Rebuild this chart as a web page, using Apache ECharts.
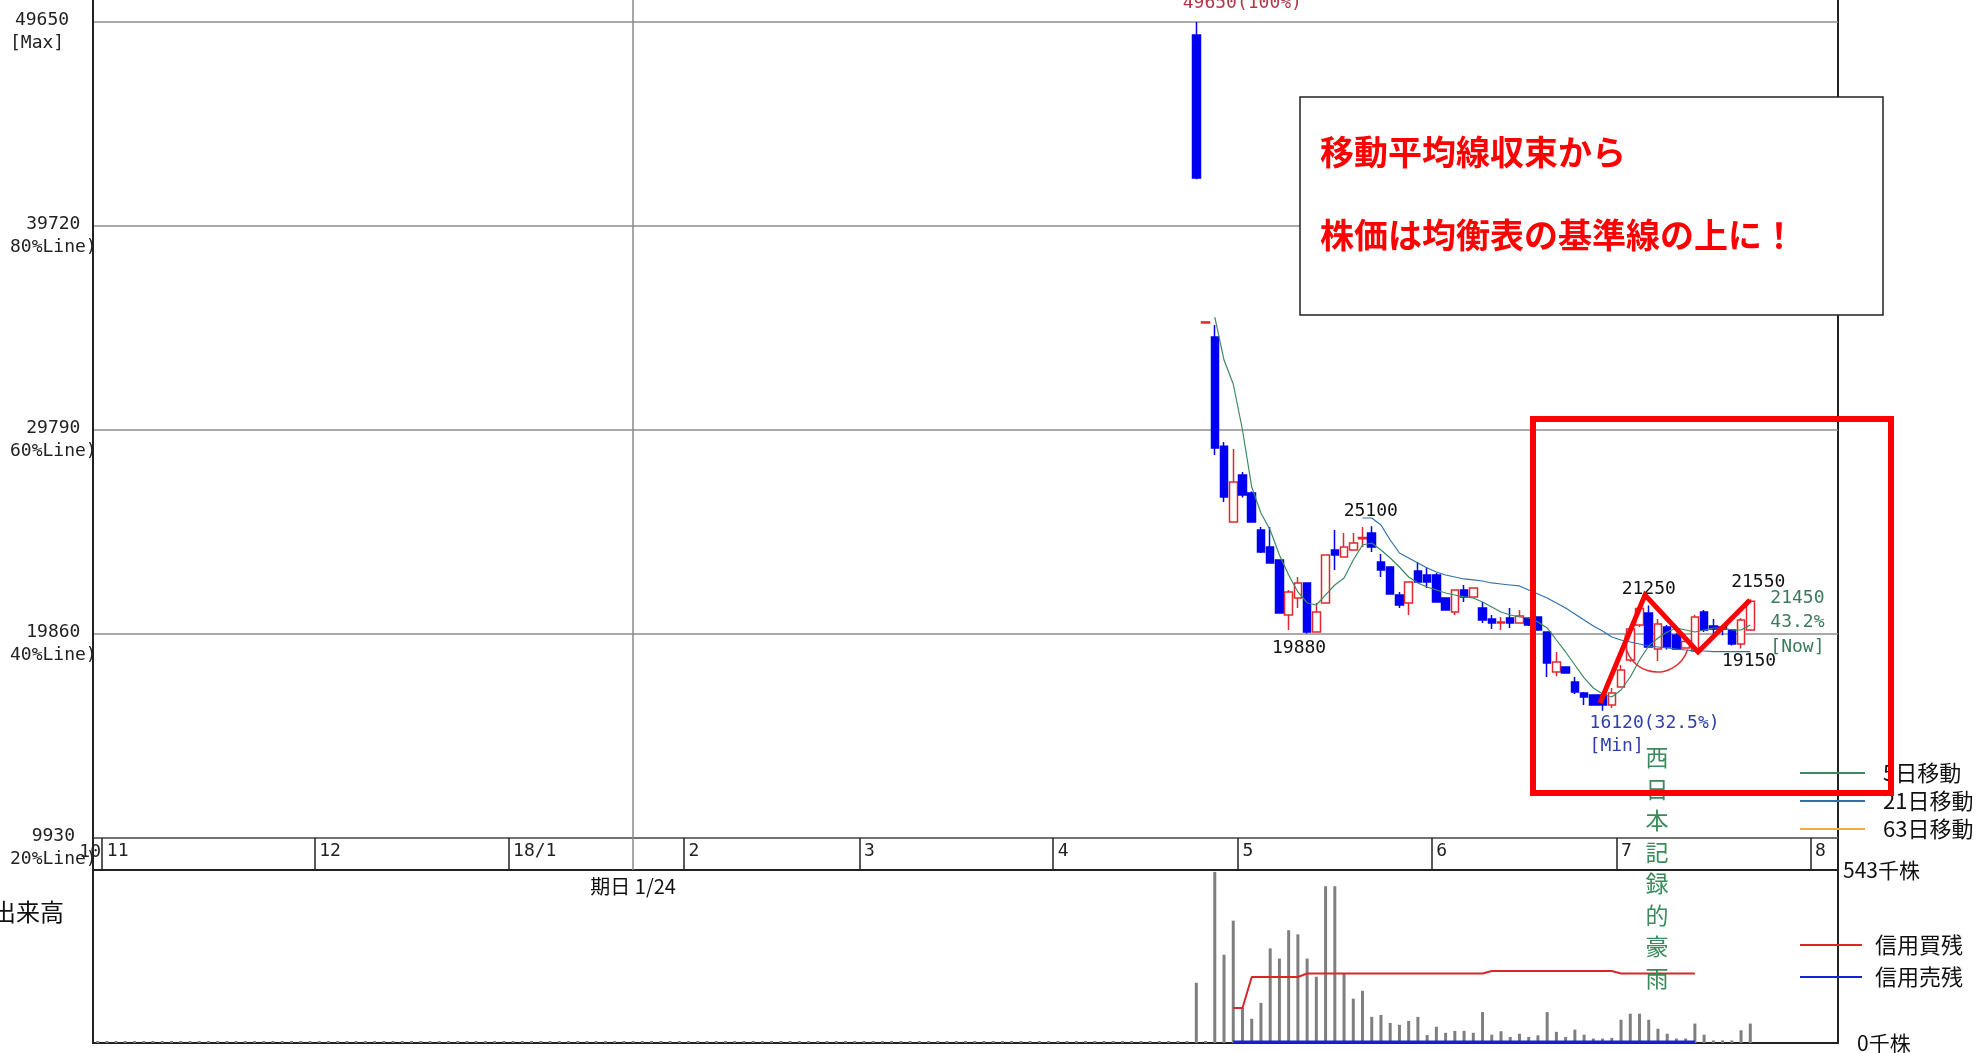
<!DOCTYPE html>
<html><head><meta charset="utf-8">
<script src="https://cdn.jsdelivr.net/npm/echarts@6/dist/echarts.min.js"></script>
<style>html,body{margin:0;padding:0;background:#fff;}#c{width:1977px;height:1053px;}</style>
</head><body><div id="c"></div>
<script>
// ---------- data ----------
const monthNames = ['10','11','12','18/1','2','3','4','5','6','7','8'];
const monthDays  = [1,23,21,19,19,21,20,21,20,21,3];

const firstDay = 119;               // category index of the listing day
// [open, close, low, high]
const candles = [
 [49017,42056,42000,49650],[35000,35050,35000,35050],[34317,28914,28573,34900],[29003,26529,26286,29206],
 [25312,27259,25312,28865],[27600,26626,26500,27746],[26724,25312,25312,26800],[24923,23852,23800,25069],
 [24095,23316,23300,25069],[23462,20883,20883,23462],[20785,21905,20055,22000],[21614,22344,21128,22636],
 [22344,19957,19880,22344],[19957,20931,19957,21370],[21370,23706,21370,23706],[23950,23706,22976,24923],
 [23609,24095,23609,24777],[23950,24290,23950,24777],[24500,24560,24095,25069],[24777,24095,23852,25100],
 [23366,22976,22636,23755],[23121,21808,21808,23121],[21760,21273,21126,21905],[21370,22392,20785,22392],
 [22928,22392,22343,23366],[22733,22392,22100,23121],[22733,21420,21420,22830],[21614,21030,21030,21614],
 [20930,22003,20785,22003],[22003,21663,21420,22246],[21663,22100,21663,22100],[21128,20542,20396,21420],
 [20590,20396,20100,20786],[20396,20445,20055,20688],[20640,20396,20150,21126],[20396,20736,20396,21030],
 [20640,20299,20250,20640],[20688,20055,20055,20688],[19957,18449,17767,19957],[18011,18498,17800,18985],
 [18254,17962,17962,18254],[17524,17037,16940,17767],[16988,16793,16404,17037],[16890,16404,16404,16890],
 [16890,16404,16120,16890],[16404,16988,16258,17232],[17280,18108,17280,18352],[18595,20104,18500,20200],
 [20300,21100,20200,21200],[20880,19230,19230,21250],[19130,20347,18546,20590],[20201,19227,19100,20300],
 [19812,19130,19100,19900],[19180,19500,19150,19600],[19033,20688,19000,20800],[20931,20055,19957,21030],
 [20250,20100,19800,20590],[20201,20100,19800,20300],[20055,19373,19300,20100],[19373,20542,19150,20640],
 [20055,21450,20000,21550]
];
// volume (千株) from the listing day; days before listing traded nothing
const volumes = [189,4,537,277,384,110,76,126,297,265,354,341,265,208,492,492,218,139,164,82,88,63,57,69,82,25,51,32,38,38,32,
 97,26,37,19,29,19,24,97,35,19,42,26,14,14,16,73,92,92,73,45,29,14,14,61,26,8,8,8,40,61];
const preListingVolume = 0;

const ma5Start = 121;
const ma5 = [35290,33197,32029,29790,27016,25750,24923,23706,22733,21905,21370,21273,21760,22246,22587,23463,24193,
 24290,23950,23560,23122,22636,22344,22149,22003,21857,21760,21663,21614,21420,21176,20933,20786,20688,20640,20445,
 20153,19568,18985,18352,17720,17232,16940,16794,17135,17768,18595,19277,19666,19958,20153,20055,19958,20055,20153,
 20153,20055,20055,20300];
const ma21Start = 137;
const ma21 = [25507,25507,25166,24436,23804,23560,23317,23074,22879,22733,22636,22539,22490,22441,22344,22295,22246,
 22198,22003,21808,21613,21370,21127,20835,20542,20250,20007,19715,19568,19471,19374,19277,19228,19179,19130,19081,
 19033,19033,19000,19000,19000,19000,19000];
const marginStart = 123;
const marginBuy  = [110,110,207,207,207,207,207,207,218,218,218,218,218,218,218,218,218,218,218,218,218,218,218,218,218,218,218,218,
 226,226,226,226,226,226,226,226,226,226,226,226,226,226,218,218,218,218,218,218,218,218,218];
const marginSell = [3,3,3,3,3,3,3,3,3,3,3,3,3,3,3,3,3,3,3,3,3,3,3,3,3,3,3,3,3,3,3,3,3,3,3,3,3,3,3,3,3,3,3,3,3,3,3,3,3,3,3];

const yTicks = [9930,19860,29790,39720,49650];
const yNotes = ['20%Line)','40%Line)','60%Line)','80%Line)','[Max]'];
const volMax = 543;
const expiryIndex = 58, expiryLabel = '期日 1/24';

// annotations on the chart: [category index, price, text]
const peakLabels = [
  [138,25100,'25100'],[131,19880,'19880'],[168,21250,'21250'],[179,21550,'21550'],[178,19150,'19150']
];
const maxLabel = [119,49650,'49650(100%)'];
const minLabel = [163,16120,'16120(32.5%)\n[Min]'];
const nowLabel = [179,21450,'21450\n43.2%\n[Now]'];

// ---------- build ----------
const categories = [], monthStart = {};
monthNames.forEach((m,k)=>{ for(let d=0; d<monthDays[k]; d++){ if(d===0) monthStart[categories.length]=m; categories.push(m+'-'+(d+1)); } });
const candleSeries = candles.map((c,j)=>[firstDay+j, c[0], c[1], c[2], c[3]]);
const volSeries = categories.map((_,i)=> i<firstDay ? preListingVolume : (i-firstDay<volumes.length ? volumes[i-firstDay] : '-'));
const pairs = (start, arr)=>arr.map((v,j)=>[start+j, v]);

const MONO = 'DejaVu Sans Mono';
const JP = 'Noto Sans CJK JP';
const L = 93, R = 1977-1838;
const yMax = 50818;

const mp = (item, color, offset, align, lh) => ({
  coord:[categories[item[0]], item[1]],
  label:{show:true, formatter:item[2], color:color, offset:offset, align:align||'center', verticalAlign:'middle',
         fontFamily:MONO, fontSize:18, lineHeight:lh||20}
});

const chart = echarts.init(document.getElementById('c'), null, {renderer:'canvas'});
chart.setOption({
  animation:false,
  backgroundColor:'#fff',
  grid:[
    {left:L, right:R, top:-2, height:840, show:true, borderColor:'#222', borderWidth:2, outerBoundsMode:'none', containLabel:false},
    {left:L, right:R, top:838, height:32, show:true, borderColor:'#222', borderWidth:2, outerBoundsMode:'none', containLabel:false},
    {left:L, right:R, top:870, height:173, show:true, borderColor:'#222', borderWidth:2, outerBoundsMode:'none', containLabel:false}
  ],
  xAxis:[
    {type:'category', gridIndex:0, data:categories, axisLine:{show:false}, axisTick:{show:false}, axisLabel:{show:false}, splitLine:{show:false}},
    {type:'category', gridIndex:1, data:categories, position:'top', axisLine:{show:false}, axisTick:{show:false},
     splitLine:{show:true, interval:(i)=>monthStart[i]!==undefined, lineStyle:{color:'#222', width:1.5}},
     axisLabel:{show:true, inside:true, margin:4, interval:(i)=>i>0 && monthStart[i]!==undefined, formatter:(v)=>v.split('-')[0],
                align:'left', verticalAlign:'top', fontFamily:MONO, fontSize:18, color:'#222'}},
    {type:'category', gridIndex:2, data:categories, axisLine:{show:false}, axisTick:{show:false}, axisLabel:{show:false}, splitLine:{show:false}}
  ],
  yAxis:[
    {type:'value', gridIndex:0, min:yTicks[0], max:yMax, interval:yTicks[1]-yTicks[0],
     axisLine:{show:true, lineStyle:{color:'#222', width:2}}, axisTick:{show:false},
     splitLine:{show:true, lineStyle:{color:'#8e8e8e', width:1.5}},
     axisLabel:{align:'left', margin:83, showMaxLabel:false, showMinLabel:true, color:'#222',
       formatter:(v)=>{const k=yTicks.indexOf(v); if(k<0) return ''; return '{s| }\n{v|'+v+'}\n{n|'+yNotes[k]+'}';},
       rich:{s:{fontFamily:MONO,fontSize:18,lineHeight:20}, v:{fontFamily:MONO,fontSize:18,lineHeight:23,width:64,align:'center'}, n:{fontFamily:MONO,fontSize:18,lineHeight:23}}}},
    {type:'value', gridIndex:1, min:0, max:1, show:false},
    {type:'value', gridIndex:2, min:0, max:volMax, interval:volMax, position:'right',
     axisLine:{show:false}, axisTick:{show:false}, splitLine:{show:false},
     axisLabel:{align:'left', margin:5, color:'#111', formatter:(v)=> v===0 ? '{z|0千株}' : '{t|'+v+'千株}',
       rich:{t:{fontFamily:JP,fontSize:21}, z:{fontFamily:JP,fontSize:21,padding:[0,0,0,14]}}}}
  ],
  legend:[
    {data:['5日移動','21日移動','63日移動'], orient:'vertical', left:1800, top:761, padding:0, icon:'rect', itemWidth:65, itemHeight:2,
     itemGap:4, selectedMode:false, textStyle:{fontFamily:JP, fontSize:22, color:'#111', lineHeight:24, padding:[0,0,0,13]}},
    {data:['信用買残','信用売残'], orient:'vertical', left:1800, top:933, padding:0, icon:'rect', itemWidth:62, itemHeight:2,
     itemGap:8, selectedMode:false, textStyle:{fontFamily:JP, fontSize:22, color:'#111', lineHeight:24, padding:[0,0,0,8]}}
  ],
  series:[
    {type:'candlestick', name:'株価', xAxisIndex:0, yAxisIndex:0, barWidth:8,
     dimensions:['idx','open','close','low','high'], encode:{x:'idx', y:['open','close','low','high']},
     data:candleSeries,
     itemStyle:{color:'#ffffff', color0:'#0000f0', borderColor:'#e0282e', borderColor0:'#0000f0', borderWidth:1.5},
     markLine:{silent:true, symbol:['none','none'], label:{show:false}, lineStyle:{color:'#8a8a8a', width:1.5, type:'solid'},
               data:[{xAxis:categories[expiryIndex]}]},
     markPoint:{symbol:'circle', symbolSize:1, itemStyle:{color:'rgba(0,0,0,0)'}, silent:true,
       data:[
         mp(peakLabels[0],'#111',[-1,-15]),
         mp(peakLabels[1],'#111',[-8,15]),
         mp(peakLabels[2],'#111',[0,-16]),
         mp(peakLabels[3],'#111',[8,-17]),
         mp(peakLabels[4],'#111',[8,13]),
         mp(maxLabel,'#b03848',[46,-19]),
         mp(minLabel,'#3040a8',[-13,24],'left',23),
         mp(nowLabel,'#3a7a5c',[20,21],'left',24.5)
       ]}},
    {type:'line', name:'5日移動', xAxisIndex:0, yAxisIndex:0, data:pairs(ma5Start, ma5), showSymbol:false, color:'#3d8a60', lineStyle:{width:1.2, color:'#3d8a60'}, z:3},
    {type:'line', name:'21日移動', xAxisIndex:0, yAxisIndex:0, data:pairs(ma21Start, ma21), showSymbol:false, color:'#2e72ad', lineStyle:{width:1.2, color:'#2e72ad'}, z:3},
    {type:'line', name:'63日移動', xAxisIndex:0, yAxisIndex:0, data:[], showSymbol:false, color:'#f2ad3a', lineStyle:{width:1.2, color:'#f2ad3a'}},
    {type:'line', name:'band', xAxisIndex:1, yAxisIndex:1, data:[], showSymbol:false,
     markLine:{silent:true, symbol:['none','none'], lineStyle:{color:'#8a8a8a', width:1.5, type:'solid'},
       label:{show:true, position:'start', distance:6, formatter:expiryLabel, color:'#111', fontFamily:JP, fontSize:20},
       data:[{xAxis:categories[expiryIndex]}]}},
    {type:'bar', name:'出来高', xAxisIndex:2, yAxisIndex:2, data:volSeries, barWidth:3, barMinHeight:2, itemStyle:{color:'#7f7f7f'}},
    {type:'line', name:'信用買残', xAxisIndex:2, yAxisIndex:2, data:pairs(marginStart, marginBuy), showSymbol:false, color:'#d4282c', lineStyle:{width:2, color:'#d4282c'}, z:4},
    {type:'line', name:'信用売残', xAxisIndex:2, yAxisIndex:2, data:pairs(marginStart, marginSell), showSymbol:false, color:'#1a22cc', lineStyle:{width:3, color:'#1a22cc'}, z:4}
  ],
  graphic:[
    {type:'text', x:101, y:843, z:5, style:{text:monthNames[0], font:'18px "DejaVu Sans Mono"', fill:'#222', align:'right', verticalAlign:'top'}},
    {type:'text', left:-8, top:900, z:50, style:{text:'出来高', font:'24px "Noto Sans CJK JP"', fill:'#111'}},
    {type:'text', x:1657, y:742, z:60, style:{text:'西\n日\n本\n記\n録\n的\n豪\n雨', font:'23px "Noto Sans CJK JP"', fill:'#3a8a5c', align:'center', lineHeight:31.5}},
    {type:'rect', z:100, shape:{x:1300, y:97, width:583, height:218}, style:{fill:'#fff', stroke:'#222', lineWidth:1.5}},
    {type:'text', z:101, x:1320, y:152, style:{text:'移動平均線収束から', font:'bold 34px "Noto Sans CJK JP"', fill:'#ff0000', verticalAlign:'middle'}},
    {type:'text', z:101, x:1320, y:235, style:{text:'株価は均衡表の基準線の上に！', font:'bold 34px "Noto Sans CJK JP"', fill:'#ff0000', verticalAlign:'middle'}},
    {type:'rect', z:100, shape:{x:1533, y:419, width:358, height:374}, style:{fill:'none', stroke:'#ff0000', lineWidth:6}},
    {type:'polyline', z:100, shape:{points:[[1600,703],[1645,595],[1698,652],[1750,600]]}, style:{stroke:'#ff0000', lineWidth:5, fill:'none'}},
    {type:'arc', z:99, shape:{cx:1657, cy:640, r:32, startAngle:0.3, endAngle:3.3}, style:{stroke:'#e03030', lineWidth:1.5, fill:'none'}}
  ]
});
</script></body></html>
